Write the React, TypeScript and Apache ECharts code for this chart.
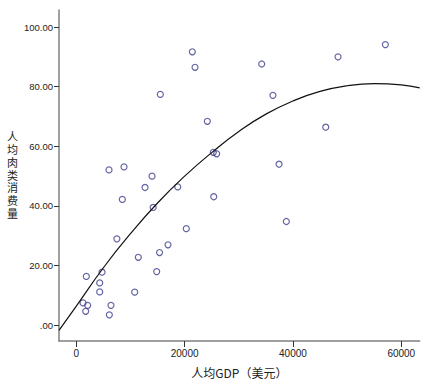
import React, { useEffect, useRef } from "react";
import * as echarts from "echarts";

// Scatter data: per-capita GDP (USD) vs per-capita meat consumption
const gdp = [
  21420, 21920, 15510, 24190, 6040, 8810, 13980, 12690, 18720, 25300, 25920,
  34230, 48320, 57060, 36300, 46050, 37430, 8500, 14190, 7490, 20310, 16930,
  15370, 11450, 14840, 4750, 1850, 4320, 4320, 10780, 1240, 2100, 1730, 6400,
  6100, 25370, 38780,
];
const meat = [
  91.7, 86.5, 77.4, 68.4, 52.1, 53.1, 50.0, 46.2, 46.4, 58.0, 57.5, 87.6, 90.0,
  94.1, 77.1, 66.4, 54.0, 42.2, 39.5, 29.0, 32.4, 27.0, 24.4, 22.8, 18.0, 17.8,
  16.4, 14.2, 11.2, 11.1, 7.5, 6.7, 4.7, 6.7, 3.5, 43.1, 34.8,
];

// Fitted curve, points
const fitX = [-3195, 0, 5000, 10000, 15000, 20000, 25000, 30000, 35000, 40000, 45000, 50000, 55000, 60000, 63400];
const fitY = [-1.7, 6.4, 19.3, 30.7, 41.0, 50.0, 57.9, 65.0, 70.8, 75.2, 78.4, 80.3, 81.0, 80.6, 79.6];

const xTicks = [0, 20000, 40000, 60000];
const yTicks = [0, 20, 40, 60, 80, 100];

const xName = "人均GDP（美元）";
const yName = "人均肉类消费量";

const numFont = "'Liberation Sans', Arial, sans-serif";
const cjkFont = "'Noto Sans CJK SC', sans-serif";
const stackFont = "'Liberation Sans', 'Noto Sans CJK SC', sans-serif";

export default function App() {
  const ref = useRef<HTMLDivElement>(null);
  useEffect(() => {
    if (!ref.current) return;
    const chart = echarts.init(ref.current, undefined, { renderer: "svg" });
    const axisLine = { lineStyle: { color: "#808080", width: 1.5 } };
    chart.setOption({
      animation: false,
      backgroundColor: "#ffffff",
      grid: { left: 59, right: 8.3, top: 10, bottom: 44, containLabel: false },
      xAxis: {
        type: "value",
        min: -3195,
        max: 63400,
        axisLine: { ...axisLine, onZero: false },
        axisTick: {
          show: true,
          length: 6,
          customValues: xTicks,
          lineStyle: { color: "#333", width: 1 },
        },
        axisLabel: {
          customValues: xTicks,
          margin: 7,
          fontFamily: numFont,
          fontSize: 10,
          color: "#222",
          formatter: (v: number) => String(v),
        },
        splitLine: { show: false },
        name: xName,
        nameLocation: "middle",
        nameGap: 25,
        nameTextStyle: { fontFamily: cjkFont, fontSize: 12, color: "#222" },
      },
      yAxis: {
        type: "value",
        min: -5.26,
        max: 105.7,
        axisLine: { ...axisLine, onZero: false },
        axisTick: {
          show: true,
          length: 5,
          customValues: yTicks,
          lineStyle: { color: "#333", width: 1 },
        },
        axisLabel: {
          customValues: yTicks,
          margin: 6,
          fontFamily: numFont,
          fontSize: 9.5,
          color: "#222",
          formatter: (v: number) => (v === 0 ? ".00" : v.toFixed(2)),
        },
        splitLine: { show: false },
        name: yName.split("").join("\n"),
        nameLocation: "middle",
        nameRotate: 0,
        nameGap: 44,
        nameTextStyle: {
          fontFamily: stackFont,
          fontSize: 11,
          lineHeight: 12.8,
          color: "#222",
          align: "center",
          verticalAlign: "middle",
        },
      },
      series: [
        {
          type: "scatter",
          data: gdp.map((g, i) => [g, meat[i]]),
          symbol: "circle",
          symbolSize: 6,
          itemStyle: { color: "rgba(255,255,255,0)", borderColor: "#3d3d8c", borderWidth: 1.2 },
          z: 2,
        },
        {
          type: "line",
          data: fitX.map((x, i) => [x, fitY[i]]),
          smooth: 0.5,
          showSymbol: false,
          lineStyle: { color: "#111", width: 1.2 },
          z: 3,
        },
      ],
    });
    return () => chart.dispose();
  }, []);
  return (
    <div
      ref={ref}
      style={{ position: "fixed", left: 0, top: 0, width: 428, height: 385, background: "#fff" }}
    />
  );
}
